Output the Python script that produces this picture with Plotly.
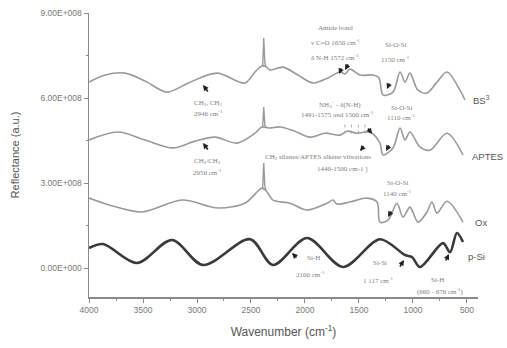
import plotly.graph_objects as go

# ---- data (wavenumber in cm-1, reflectance in units of 1E+08) ----
bs3_wn = [4000, 3852, 3667, 3481, 3278, 3065, 2815, 2556, 2463, 2400, 2358, 2324,
          2204, 2065, 1926, 1787, 1676, 1630, 1583, 1491, 1370, 1315, 1278, 1185, 1120,
          1074, 1028, 954, 870, 778, 685, 565, 519]
bs3_val = [6.56, 6.81, 6.88, 6.60, 6.21, 6.56, 6.88, 6.53, 6.92, 7.13, 7.10, 6.99,
           7.09, 6.81, 6.53, 6.71, 6.92, 6.85, 7.02, 6.81, 6.81, 6.71, 6.11, 6.21, 6.92,
           6.56, 6.88, 6.28, 6.18, 6.56, 6.92, 6.28, 5.93]
bs3_spike_wn = [2392, 2382, 2372, 2362]
bs3_spike_val = [7.12, 8.12, 7.25, 7.10]

aptes_wn = [4000, 3731, 3481, 3222, 3019, 2833, 2630, 2463, 2400, 2358, 2324, 2231,
            2093, 1954, 1815, 1676, 1611, 1519, 1398, 1306, 1278, 1185, 1120, 1074, 1028,
            935, 843, 685, 537]
aptes_val = [4.52, 4.80, 4.52, 4.24, 4.48, 4.62, 4.41, 4.76, 4.98, 4.96, 4.94, 4.98,
             4.83, 4.62, 4.76, 4.69, 4.83, 4.76, 4.80, 4.41, 3.99, 4.24, 4.94, 4.52, 4.80,
             4.27, 4.16, 4.76, 3.99]
aptes_spike_wn = [2392, 2382, 2372, 2362]
aptes_spike_val = [4.98, 5.68, 5.05, 4.97]

ox_wn = [4000, 3806, 3509, 3139, 2806, 2556, 2435, 2400, 2358, 2296, 2139, 1981,
         1796, 1741, 1704, 1583, 1426, 1333, 1306, 1231, 1148, 1093, 1028, 954, 870, 824,
         778, 685, 537]
ox_val = [2.47, 2.22, 1.98, 2.40, 2.12, 2.29, 2.72, 2.82, 2.72, 2.40, 2.29, 2.05,
          2.29, 2.40, 2.26, 2.33, 2.47, 2.33, 1.62, 1.69, 2.29, 1.80, 2.15, 1.62, 1.98, 2.33,
          1.94, 2.36, 1.62]
ox_spike_wn = [2392, 2382, 2372, 2362]
ox_spike_val = [2.80, 3.71, 2.90, 2.74]

psi_wn = [4000, 3870, 3556, 3231, 2944, 2509, 2296, 1981, 1648, 1306, 1074, 1009, 935,
          722, 657, 593, 537]
psi_val = [0.71, 0.85, 0.18, 0.99, 0.11, 1.02, 0.11, 1.06, 0.04, 1.02, 0.46, 0.39, 0.04,
           0.88, 0.56, 1.24, 0.92]

aptes_marker_wn = [1630, 1570, 1505, 1445]

series_names = ["BS<sup>3</sup>", "APTES", "Ox", "p-Si"]
y_tickvals = [0, 3e8, 6e8, 9e8]
y_ticktext = ["0.00E+000", "3.00E+008", "6.00E+008", "9.00E+008"]
x_tickvals = [4000, 3500, 3000, 2500, 2000, 1500, 1000, 500]

SCALE = 1e8
GRAY = "#9a9a9a"
DARK = "#3a3a3a"

fig = go.Figure()
for wn, val, col, w in [(bs3_wn, bs3_val, GRAY, 1.6), (aptes_wn, aptes_val, GRAY, 1.6),
                        (ox_wn, ox_val, GRAY, 1.6), (psi_wn, psi_val, DARK, 2.6)]:
    fig.add_trace(go.Scatter(x=wn, y=[v * SCALE for v in val], mode="lines",
                             line=dict(color=col, width=w, shape="spline", smoothing=0.9),
                             showlegend=False, hoverinfo="skip"))
for wn, val in [(bs3_spike_wn, bs3_spike_val), (aptes_spike_wn, aptes_spike_val),
                (ox_spike_wn, ox_spike_val)]:
    fig.add_trace(go.Scatter(x=wn, y=[v * SCALE for v in val], mode="lines",
                             line=dict(color=GRAY, width=1.4),
                             showlegend=False, hoverinfo="skip"))

W, H = 507, 348
L, R, T, B = 89, 29, 13, 51
PW, PH = W - L - R, H - T - B


def px(x, y):
    """screen pixel -> paper coords"""
    return (x - L) / PW, (H - B - y) / PH


ann_font = dict(family="Liberation Serif", size=7, color="#808080")
texts = [
    (208, 103, "CH<sub>3</sub>, CH<sub>2</sub>"), (208, 113, "2946 cm<sup>-1</sup>"),
    (207, 161, "CH<sub>2</sub>/CH<sub>3</sub>"), (207, 172, "2950 cm<sup>-1</sup>"),
    (335, 28, "Amide bond"), (335, 43, "ν C=O 1650 cm<sup>-1</sup>"),
    (335, 57, "δ N-H 1572 cm<sup>-1</sup>"),
    (395, 45, "Si-O-Si"), (395, 59, "1150 cm<sup>-1</sup>"),
    (340, 104, "NH<sub>3</sub><sup>+</sup> - δ(N-H)"),
    (337, 115, "1491-1575 and 1500 cm<sup>-1</sup>"),
    (401, 108, "Si-O-Si"), (401, 118, "1110 cm<sup>-1</sup>"),
    (318, 157, "CH<sub>2</sub> silanes/APTES alkene vibrations"),
    (342, 169, "1440-1500 cm-1 ]"),
    (397, 183, "Si-O-Si"), (397, 193, "1140 cm<sup>-1</sup>"),
    (313, 258, "Si-H"), (310, 274, "2100 cm<sup>-1</sup>"),
    (380, 263, "Si-Si"), (378, 280, "1 117 cm<sup>-1</sup>"),
    (437, 280, "Si-H"), (440, 291, "(660 - 676 cm<sup>-1</sup>)"),
]
for x, y, t in texts:
    xp, yp = px(x, y)
    fig.add_annotation(x=xp, y=yp, xref="paper", yref="paper", text=t, showarrow=False,
                       font=ann_font, xanchor="center", yanchor="middle")

arrows = [
    (203, 85, 6, 8), (203, 143, 6, 8), (339, 74, 3, -7), (345, 70, 4, -7),
    (387, 89, 3, -7), (372, 134, -5, -7), (360, 151, 5, -6), (386, 151, 4, -7),
    (388, 217, 4, -7), (292, 253, 6, 6), (404, 260, -5, 8), (449, 254, -4, 8),
]
for x, y, ax, ay in arrows:
    xp, yp = px(x, y)
    fig.add_annotation(x=xp, y=yp, xref="paper", yref="paper", text="", showarrow=True,
                       arrowhead=2, arrowsize=0.7, arrowwidth=1.6, arrowcolor="#222",
                       ax=ax, ay=ay)

label_pos = [(481, 100, "center"), (505, 156, "right"), (481, 222, "center"), (476, 256, "center")]
for (x, y, anc), t in zip(label_pos, series_names):
    xp, yp = px(x, y)
    fig.add_annotation(x=xp, y=yp, xref="paper", yref="paper", text=t, showarrow=False,
                       font=dict(family="Liberation Sans", size=9.5, color="#555"),
                       xanchor=anc, yanchor="middle")

# small peak markers on APTES
for wn in aptes_marker_wn:
    fig.add_shape(type="line", x0=wn, x1=wn, y0=4.75e8, y1=5.15e8, xref="x", yref="y",
                  line=dict(color="#999", width=0.8, dash="dot"))

axis_common = dict(showline=True, linecolor="#8a8a8a", linewidth=1.5, ticks="outside",
                   tickcolor="#8a8a8a", ticklen=4, tickwidth=1, showgrid=False, zeroline=False,
                   automargin=False, ticklabeloverflow="allow",
                   tickfont=dict(family="Liberation Sans", size=8.5, color="#777"))
fig.update_xaxes(range=[4000, 398], tickvals=x_tickvals,
                 minor=dict(ticks="outside", dtick=250, tick0=0, ticklen=2, tickcolor="#8a8a8a"),
                 title=dict(text="Wavenumber (cm<sup>-1</sup>)", standoff=14,
                            font=dict(family="Liberation Sans", size=12, color="#555")),
                 **axis_common)
fig.update_yaxes(range=[-1.02e8, 9.0e8], tickvals=y_tickvals, ticktext=y_ticktext,
                 minor=dict(ticks="outside", dtick=1.5e8, tick0=0, ticklen=2, tickcolor="#8a8a8a"),
                 title=dict(text="Reflectance (a.u.)", standoff=18,
                            font=dict(family="Liberation Sans", size=11, color="#555")),
                 **axis_common)
fig.update_layout(width=W, height=H, margin=dict(l=L, r=R, t=T, b=B),
                  plot_bgcolor="white", paper_bgcolor="white")
fig.write_html("out.html", config={"displayModeBar": False, "staticPlot": True},
               post_script="document.body.style.margin='0';document.body.style.overflow='hidden';")
